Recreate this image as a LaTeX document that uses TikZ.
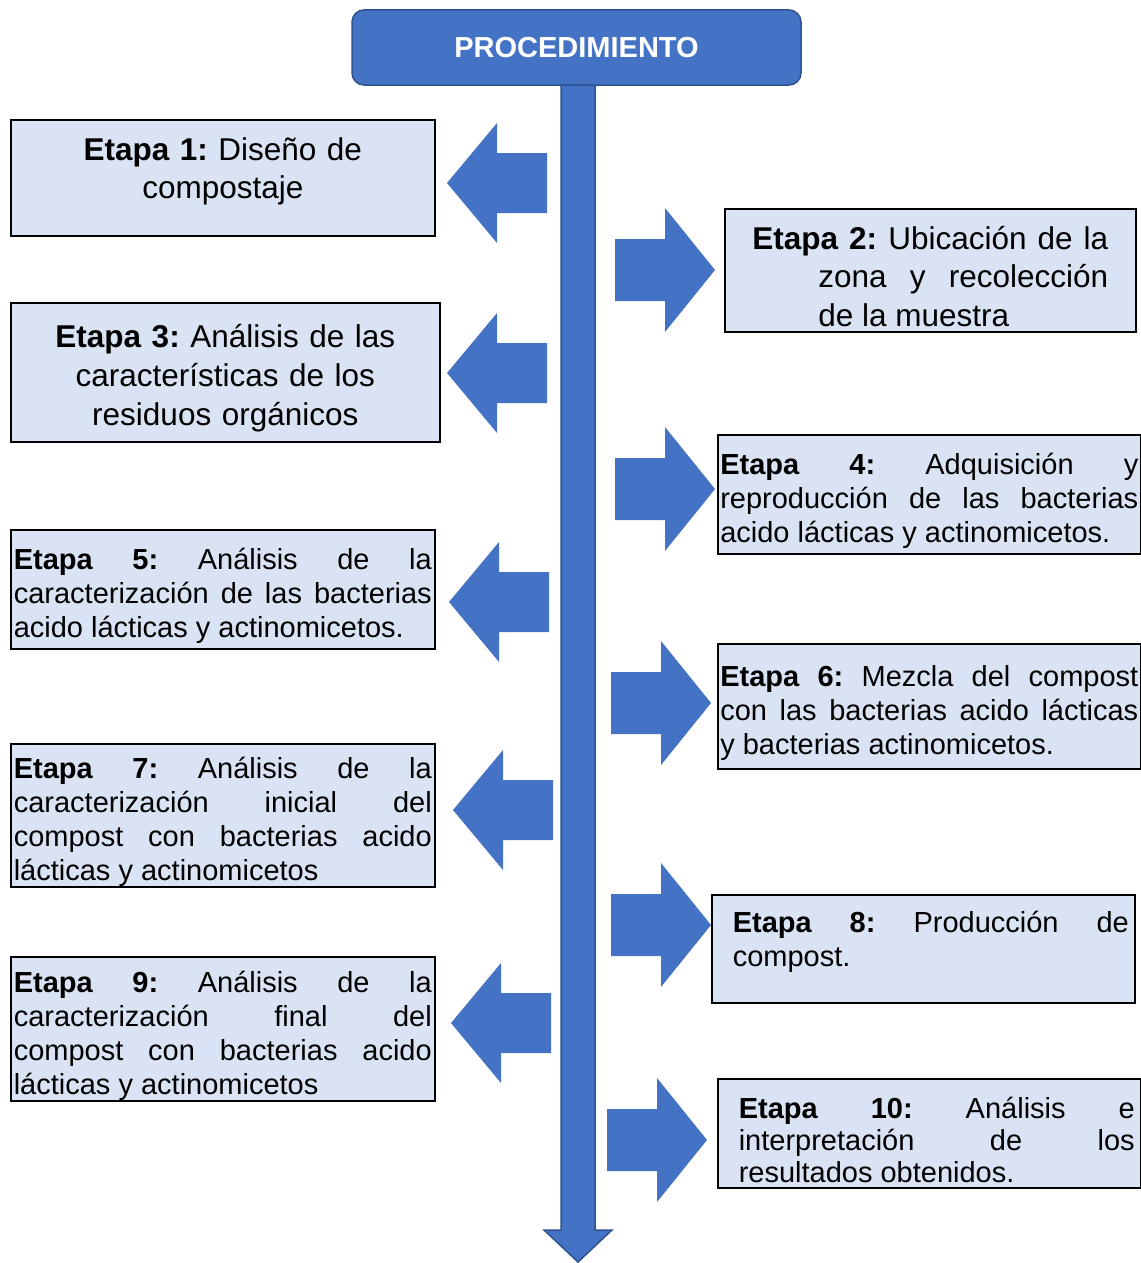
\documentclass[tikz,border=0pt]{standalone}
\usepackage{fontspec}
\setmainfont{Liberation Sans}
\frenchspacing
\definecolor{azulgood}{RGB}{68,114,196}
\definecolor{azulborde}{RGB}{47,82,143}
\definecolor{celestegood}{RGB}{218,227,243}
\hbadness=10000
\begin{document}
\begin{tikzpicture}[x=1pt,y=-1pt,
 etapa/.style={draw=black,line width=1.6pt,fill=celestegood,inner sep=0pt,anchor=north west,
  align=justify,font=\fontsize{29}{34}\selectfont},
 bajo/.style={execute at begin node={\rule{0pt}{35pt}}},
 grande/.style={align=center,font=\fontsize{31.5}{39}\selectfont}]
\useasboundingbox (0,0) rectangle (1140,1263);
% eje central con punta
\draw[fill=azulgood,draw=azulborde,line width=1.5pt] (561,85)--(595,85)--(595,1230)--(612,1230)
 --(578,1262)--(544,1230)--(561,1230)--cycle;
\node[fill=azulgood,draw=azulborde,line width=1.5pt,rounded corners=12pt,minimum width=449pt,
 minimum height=75pt,text=white,font=\fontsize{29}{34}\selectfont\bfseries] (titulo) at (576.5,47.5) {PROCEDIMIENTO};
% flechas de bloque
\foreach \tx/\cy in {447/183,447/373,449/602,453/810,451/1023}
 \fill[azulgood] (\tx,\cy)--(\tx+50,\cy-60)--(\tx+50,\cy-30)--(\tx+100,\cy-30)--(\tx+100,\cy+30)
  --(\tx+50,\cy+30)--(\tx+50,\cy+60)--cycle;
\foreach \sx/\cy in {615/270,615/489,611/703,611/925,607/1140}
 \fill[azulgood] (\sx,\cy-31)--(\sx+50,\cy-31)--(\sx+50,\cy-62)--(\sx+100,\cy)--(\sx+50,\cy+62)
  --(\sx+50,\cy+31)--(\sx,\cy+31)--cycle;
% etapas
\node[etapa,grande,font=\fontsize{31.5}{38}\selectfont,text width=400pt,
 minimum width=424pt,minimum height=116pt] (e1) at (10,119)
 {\textbf{Etapa 1:} Diseño de\\compostaje\rule[-19pt]{0pt}{19pt}};
\node[etapa,bajo,font=\fontsize{31.5}{38.5}\selectfont,text width=356pt,minimum width=411pt,minimum height=123pt] (e2) at (724,208)
 {\hangindent=66pt\hangafter=1 \textbf{Etapa 2:} Ubicación de la\linebreak zona y recolección\linebreak de la muestra\par};
\node[etapa,bajo,grande,text width=400pt,minimum width=429pt,minimum height=139pt] (e3) at (10,302)
 {\textbf{Etapa 3:} Análisis de las\\características de los\\residuos orgánicos};
\node[etapa,bajo,text width=418pt,minimum width=423pt,minimum height=119pt] (e4) at (717,434)
 {\textbf{Etapa 4:} Adquisición y\linebreak reproducción de las bacterias\linebreak acido lácticas y actinomicetos.};
\node[etapa,bajo,text width=418pt,minimum width=424pt,minimum height=119pt] (e5) at (10,529)
 {\textbf{Etapa 5:} Análisis de la\linebreak caracterización de las bacterias\linebreak acido lácticas y actinomicetos.};
\node[etapa,bajo,text width=418pt,minimum width=423pt,minimum height=125pt] (e6) at (717,643)
 {\textbf{Etapa 6:} Mezcla del compost\linebreak con las bacterias acido lácticas\linebreak y bacterias actinomicetos.};
\node[etapa,bajo,text width=418pt,minimum width=424pt,minimum height=142pt] (e7) at (10,743)
 {\textbf{Etapa 7:} Análisis de la\linebreak caracterización inicial del\linebreak compost con bacterias acido\linebreak lácticas y actinomicetos};
\node[etapa,text width=411pt,minimum width=423pt,minimum height=108pt] (e8) at (711,894)
 {\leftskip=15pt \textbf{Etapa 8:} Producción de\linebreak compost.\rule[-20pt]{0pt}{20pt}\par};
\node[etapa,bajo,text width=418pt,minimum width=424pt,minimum height=144pt] (e9) at (10,956)
 {\textbf{Etapa 9:} Análisis de la\linebreak caracterización final del\linebreak compost con bacterias acido\linebreak lácticas y actinomicetos};
\node[etapa,bajo,font=\fontsize{29}{32}\selectfont,text width=411pt,minimum width=423pt,minimum height=109pt] (e10) at (717,1078)
 {\leftskip=15pt \textbf{Etapa 10:} Análisis e\linebreak interpretación de los\linebreak resultados obtenidos.\par};
\end{tikzpicture}
\end{document}
